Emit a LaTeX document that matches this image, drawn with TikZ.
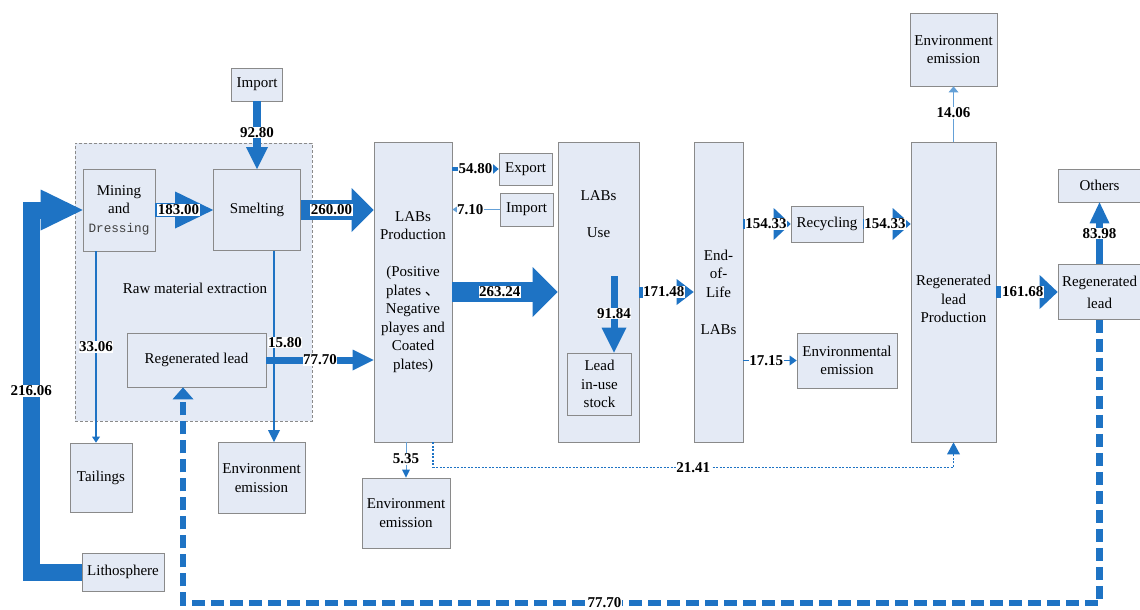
\documentclass[tikz,border=0pt]{standalone}
\usepackage{fontspec}
\setmainfont{Liberation Serif}
\setmonofont{Liberation Mono}
\newfontfamily\cjk{Noto Sans CJK SC}
\usetikzlibrary{arrows.meta}
\definecolor{flowblue}{RGB}{30,115,196}
\definecolor{paleblue}{RGB}{100,160,215}
\definecolor{boxfill}{RGB}{228,234,245}
\definecolor{boxline}{RGB}{138,138,138}
\begin{document}
\begin{tikzpicture}[x=1pt,y=-1pt,
  box/.style={draw=boxline,line width=0.7pt,fill=boxfill,align=center,inner sep=1pt,font=\fontsize{15}{18.5}\selectfont},
  txt/.style={align=center,inner sep=0pt,font=\fontsize{15}{18.5}\selectfont},
  val/.style={fill=white,inner sep=0.6pt,font=\fontsize{15}{17}\selectfont\bfseries},
  flow/.style={draw=flowblue,line width=#1},
  head/.style 2 args={-{Triangle[length=#1,width=#2,line width=0pt]}},
  dashflow/.style={draw=flowblue,line width=6.5pt,dash pattern=on 13pt off 6pt,head={12pt}{21pt}},
  dotflow/.style={draw=flowblue,line width=1.5pt,dash pattern=on 2pt off 1.5pt,head={12pt}{13pt}}]

  \path[use as bounding box,fill=white] (0,0) rectangle (1140,610);

  % raw material extraction
  \node[box,dashed,dash pattern=on 3pt off 2pt,minimum width=237pt,minimum height=278pt] (1) at (193.5,282) {};
  \node[txt] (2) at (195,288) {Raw material extraction};
  \node[box,minimum width=72pt,minimum height=82pt] (3) at (119,210) {Mining\\and\\{\ttfamily\fontsize{12.7}{18.5}\selectfont\color{black!75}Dressing}};
  \node[box,minimum width=87pt,minimum height=81pt] (4) at (257,210) {Smelting};
  \node[box,minimum width=139pt,minimum height=54pt] (5) at (196.5,360) {Regenerated lead};
  \node[box,minimum width=51pt,minimum height=33pt] (0) at (257,84.5) {Import};
  \node[box,minimum width=62pt,minimum height=69pt] (6) at (101,477.5) {Tailings};
  \node[box,minimum width=87pt,minimum height=71pt] (7) at (261.5,478) {Environment\\emission};
  \node[box,minimum width=82pt,minimum height=38pt] (8) at (123,572) {Lithosphere};

  % batteries
  \node[box,minimum width=78pt,minimum height=300pt] (9) at (413,292) {LABs\\Production\\[18.5pt](Positive\\plates {\cjk 、}\\Negative\\playes and\\Coated\\plates)};
  \node[box,minimum width=53pt,minimum height=32pt] (10) at (525.5,169) {Export};
  \node[box,minimum width=53pt,minimum height=33pt] (11) at (526.5,209.5) {Import};
  \node[box,minimum width=88pt,minimum height=70pt] (21) at (406,513) {Environment\\emission};
  \node[box,minimum width=81pt,minimum height=300pt] (12) at (598.5,292) {};
  \node[txt] (12a) at (598.5,214) {LABs\\[18pt]Use};
  \node[box,minimum width=64pt,minimum height=62pt] (13) at (599.5,384) {Lead\\in-use\\stock};
  \node[box,minimum width=49pt,minimum height=300pt] (14) at (718.5,292) {End-\\of-\\Life\\[18.5pt]LABs};
  \node[box,minimum width=72pt,minimum height=36pt] (15) at (827,224) {Recycling};
  \node[box,minimum width=100pt,minimum height=55pt] (16) at (847,360.5) {Environmental\\emission};

  % regeneration
  \node[box,minimum width=85pt,minimum height=300pt] (17) at (953.5,292) {};
  \node[txt] (17a) at (953.5,299) {Regenerated\\lead\\Production};
  \node[box,minimum width=87pt,minimum height=73pt] (18) at (953.5,49.5) {Environment\\emission};
  \node[box,minimum width=83pt,minimum height=33pt] (19) at (1099.5,185.5) {Others};
  \node[box,minimum width=83pt,minimum height=55pt] (20) at (1099.5,292) {Regenerated\\[3.5pt]lead};
  \coordinate (22) at (614,276);

  \path
   (0) edge[flow=8pt,head={22pt}{22pt}] node[val,pos=0.46]{92.80} (4)
   (3) edge[flow=14pt,head={38pt}{37pt}] node[val,pos=0.4]{183.00} (4)
   (4.east) edge[flow=20pt,head={22pt}{44pt}] node[val,pos=0.42]{260.00} (4.east -| 9.west)
   (5.east) edge[flow=7pt,head={21pt}{21pt}] node[val,pos=0.5]{77.70} (5.east -| 9.west)
   ([xshift=-23pt]3.south) edge[flow=2.2pt,head={6pt}{8pt}] node[val,pos=0.5]{33.06} ([xshift=-23pt]3.south |- 6.north)
   ([xshift=17pt]4.south) edge[flow=1.2pt,head={12pt}{12pt}] node[val,pos=0.48,xshift=11pt]{15.80} ([xshift=17pt]4.south |- 7.north)
   (9) edge[flow=20pt,head={25pt}{50pt}] node[val,pos=0.45]{263.24} (12)
   (9.east |- 10) edge[flow=4pt,head={7pt}{12pt}] node[val,pos=0.5]{54.80} (10)
   (11) edge[draw=paleblue,line width=1.5pt,head={7pt}{9pt}] node[val,pos=0.62]{7.10} (11 -| 9.east)
   (21.north |- 9.south) edge[draw=paleblue,line width=1pt,-{Triangle[length=8pt,width=8pt,line width=0pt,color=flowblue]}] node[val,pos=0.47]{5.35} (21)
   (22) edge[flow=7pt,head={25pt}{25pt}] node[val,pos=0.49]{91.84} (22 |- 13.north)
   (12) edge[flow=11pt,head={17pt}{26pt}] node[val,pos=0.45]{171.48} (14)
   (14.east |- 15) edge[flow=10pt,head={17pt}{32pt}] node[val,pos=0.48]{154.33} (15)
   (15) edge[flow=10pt,head={18pt}{32pt}] node[val,pos=0.46]{154.33} (15 -| 17.west)
   (14.east |- 16) edge[flow=1.5pt,head={7pt}{10pt}] node[val,pos=0.43]{17.15} (16)
   (17) edge[flow=12pt,head={18pt}{34pt}] node[val,pos=0.43]{161.68} (20)
   (17) edge[draw=paleblue,line width=1.5pt,head={6pt}{10pt}] node[val,pos=0.52]{14.06} (18)
   (20) edge[flow=7pt,head={21pt}{20pt}] node[val,pos=0.5]{83.98} (19);

  \draw[flow=17pt,head={42pt}{41pt}] (8.west) -- ++(-50.5,0) |- node[val,pos=0.25]{216.06} (3.west);
  \draw[dotflow] ([xshift=20pt]9.south) -- ++(0,25) -| node[val,pos=0.25]{21.41} (17.south);
  \draw[dashflow] (20.south) -- ++(0,283) -| node[val,pos=0.27]{77.70} ([xshift=-13.5pt]5.south);
\end{tikzpicture}
\end{document}
